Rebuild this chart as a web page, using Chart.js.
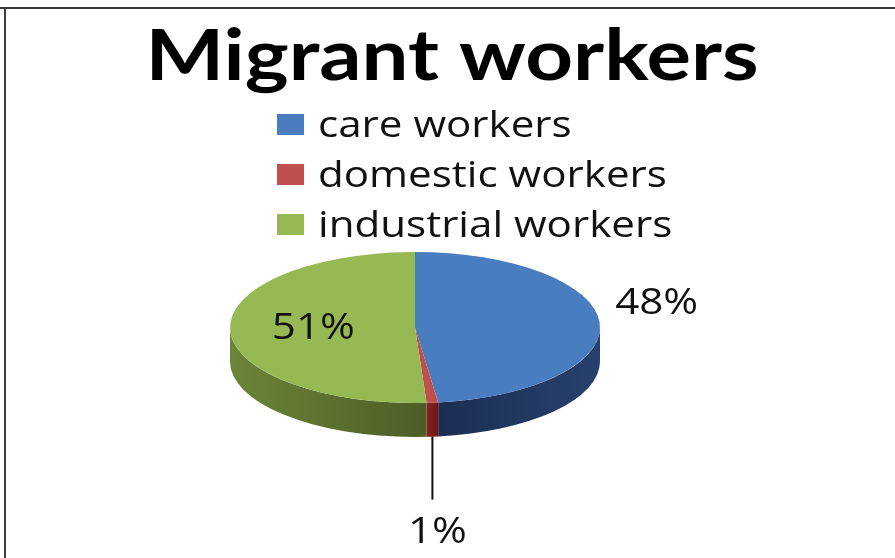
<!DOCTYPE html>
<html>
<head>
<meta charset="utf-8">
<title>Migrant workers</title>
<script src="https://cdn.jsdelivr.net/npm/chart.js@4.4.1/dist/chart.umd.min.js"></script>
<style>
    html, body { margin: 0; padding: 0; background: #fff; }
    #wrap { position: relative; width: 895px; height: 558px; overflow: hidden; }
    canvas { position: absolute; left: 0; top: 0; }
</style>
</head>
<body>
<div id="wrap"><canvas id="pieChart" width="895" height="558"></canvas></div>
<script>
// Chart data
const chartTitle = 'Migrant workers';
const categories = ['care workers', 'domestic workers', 'industrial workers'];
const shares = [48, 1, 51];

// Colours (top face / side wall light / side wall dark)
const topColors = ['#4a7dbf', '#c0504d', '#97b954'];
const sideLight = ['#27416e', '#8a2020', '#6c8538'];
const sideDark = ['#1b2e52', '#6e1717', '#4c5d27'];

// 3D look
const TILT = 0.408;   // vertical squash of the top face
const DEPTH = 34;     // thickness of the pie
const STRETCH = 1.17; // text in the picture is a bit wide

// draw text stretched horizontally around its anchor
function wideText(ctx, text, x, y, sx) {
    ctx.save();
    ctx.translate(x, y);
    ctx.scale(sx, 1);
    ctx.fillText(text, 0, 0);
    ctx.restore();
}

const pie3d = {
    id: 'pie3d',
    beforeDraw(chart) {
        const ctx = chart.ctx;
        // frame lines
        ctx.save();
        ctx.fillStyle = '#3c3c3c';
        ctx.fillRect(0, 7, chart.width, 2);
        ctx.fillRect(4, 7, 2, chart.height - 7);
        ctx.restore();
    },
    beforeDatasetsDraw(chart) {
        const ctx = chart.ctx;
        const meta = chart.getDatasetMeta(0);
        const cx = meta.data[0].x, cy = meta.data[0].y;
        const r = meta.data[0].outerRadius, ry = r * TILT;

        // side walls, only the front half is visible
        meta.data.forEach((arc, i) => {
            const a0 = Math.max(arc.startAngle, 0);
            const a1 = Math.min(arc.endAngle, Math.PI);
            if (a1 <= a0) return;
            const x0 = cx + r * Math.cos(a0), x1 = cx + r * Math.cos(a1);
            const grad = ctx.createLinearGradient(Math.min(x0, x1), 0, Math.max(x0, x1), 0);
            if (i === 0) {
                grad.addColorStop(0, sideDark[i]);
                grad.addColorStop(1, sideLight[i]);
            } else {
                grad.addColorStop(0, sideLight[i]);
                grad.addColorStop(1, sideDark[i]);
            }
            ctx.beginPath();
            ctx.ellipse(cx, cy, r, ry, 0, a0, a1);
            ctx.ellipse(cx, cy + DEPTH, r, ry, 0, a1, a0, true);
            ctx.closePath();
            ctx.fillStyle = grad;
            ctx.fill();
        });

        // squash the top face
        ctx.save();
        ctx.translate(cx, cy);
        ctx.scale(1, TILT);
        ctx.translate(-cx, -cy);
    },
    afterDatasetsDraw(chart) {
        const ctx = chart.ctx;
        ctx.restore();

        const meta = chart.getDatasetMeta(0);
        const cx = meta.data[0].x, cy = meta.data[0].y;
        const r = meta.data[0].outerRadius, ry = r * TILT;

        ctx.save();
        ctx.fillStyle = '#111';
        ctx.font = '36px "Open Sans"';
        ctx.textAlign = 'center';
        ctx.textBaseline = 'middle';

        meta.data.forEach((arc, i) => {
            const mid = (arc.startAngle + arc.endAngle) / 2;
            const text = shares[i] + '%';
            if (i === 0) {
                // outside, right of the rim
                wideText(ctx, text, cx + r * Math.cos(mid) + 57, cy + ry * Math.sin(mid) - 19, STRETCH);
            } else if (i === 1) {
                // leader line below the pie
                const x = cx + r * Math.cos(mid);
                const y = cy + ry * Math.sin(mid) + DEPTH;
                ctx.strokeStyle = '#111';
                ctx.lineWidth = 2;
                ctx.beginPath();
                ctx.moveTo(x, y);
                ctx.lineTo(x, y + 63);
                ctx.stroke();
                wideText(ctx, text, x + 5, y + 96, STRETCH);
            } else {
                wideText(ctx, text, cx + r * 0.55 * Math.cos(mid), cy + ry * 0.55 * Math.sin(mid), STRETCH);
            }
        });
        ctx.restore();
    },
    afterDraw(chart) {
        const ctx = chart.ctx;
        ctx.save();
        // title
        ctx.fillStyle = '#000';
        ctx.font = 'bold 70px Lato';
        ctx.textAlign = 'center';
        ctx.textBaseline = 'alphabetic';
        wideText(ctx, chartTitle, 452, 80, 1.19);

        // legend
        ctx.font = '36px "Open Sans"';
        ctx.textAlign = 'left';
        categories.forEach((name, i) => {
            const base = 137 + i * 50;
            ctx.fillStyle = topColors[i];
            ctx.fillRect(277, base - 23, 27, 21);
            ctx.fillStyle = '#111';
            wideText(ctx, name, 318, base, STRETCH);
        });
        ctx.restore();
    }
};

new Chart(document.getElementById('pieChart'), {
    type: 'pie',
    data: {
        labels: categories,
        datasets: [{
            data: shares,
            backgroundColor: topColors,
            borderWidth: 0,
            radius: 185
        }]
    },
    options: {
        responsive: false,
        animation: false,
        layout: { padding: { left: 230, right: 295, top: 97, bottom: 0 } },
        plugins: {
            legend: { display: false },
            title: { display: false },
            tooltip: { enabled: false }
        }
    },
    plugins: [pie3d]
});
</script>
</body>
</html>
